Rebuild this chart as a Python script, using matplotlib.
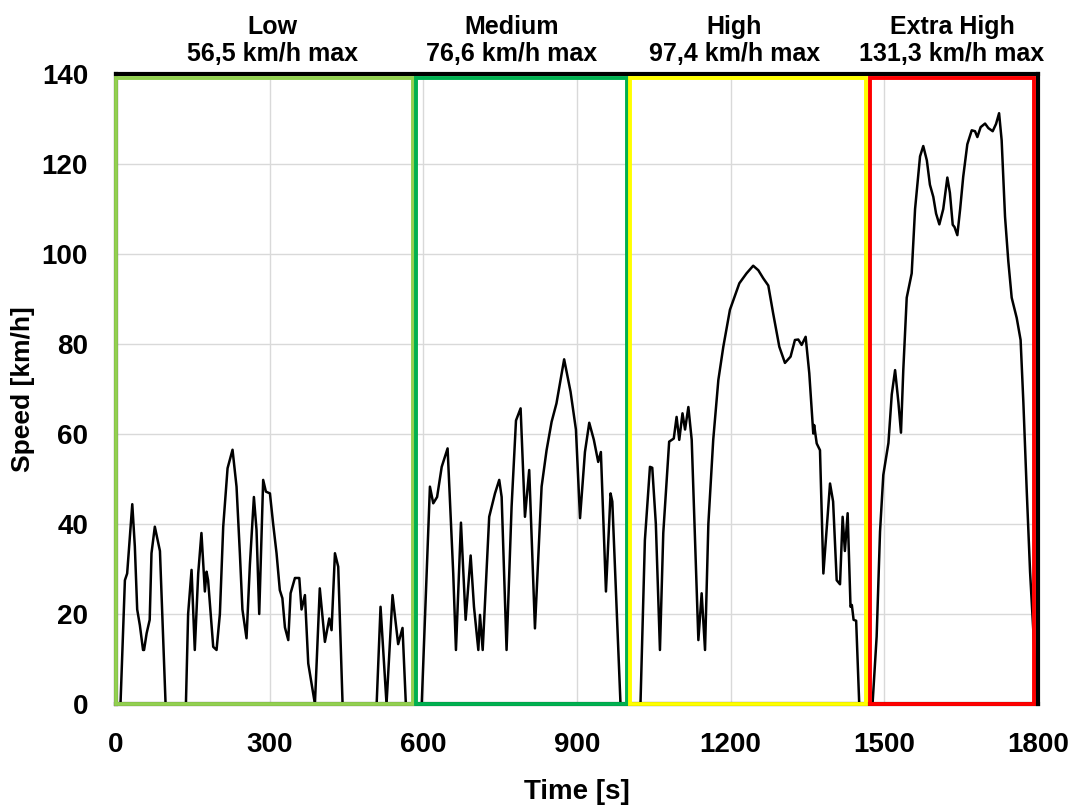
import matplotlib
matplotlib.use("Agg")
import matplotlib.pyplot as plt
from matplotlib.patches import Rectangle

# --- speed trace (time [s], speed [km/h]) ---
low_t = [0, 9, 17.6, 22, 32, 37, 41.6, 46.8, 53, 55, 60, 66, 69.5, 76, 86, 97,
         136.7, 141, 147.7, 154, 160.7, 167, 173.7, 177, 180, 190, 196.5, 203,
         209.5, 218, 227.7, 235.5, 242, 247, 255, 261.6, 269.4, 274.5, 279.8,
         287.5, 292.8, 300.7, 307, 313.6, 320, 325, 330, 336.5, 341, 349.5, 358,
         362.4, 369, 375.5, 388.5, 398, 408, 416.5, 421, 427.6, 434, 442.5,
         509, 516.6, 528.3, 540, 551, 559.5, 566]
low_v = [0, 0, 27.5, 29, 44.4, 35, 21, 17.5, 12, 12, 15.7, 18.7, 33.5, 39.4, 34, 0,
         0, 20, 29.8, 12, 29, 38, 25, 29.4, 27.5, 12.7, 12, 20,
         39.4, 52.4, 56.5, 48.3, 33.5, 21, 14.6, 31, 46, 38.7, 20,
         49.8, 47.2, 46.8, 40, 33.5, 25.3, 23.5, 17, 14.2, 24.6, 28, 28,
         21, 24.2, 9, 0, 25.7, 13.8, 19, 16.4, 33.5, 30.5, 0,
         0, 21.6, 0, 24.2, 13.3, 16.9, 0]

med_t = [597, 613, 619.5, 627, 636, 647.5, 658.5, 663.8, 673.6, 682.7, 692.5,
         699, 707.5, 710.7, 716, 728.7, 740, 748.3, 753, 762.6, 772.4, 781, 790,
         798.5, 806.8, 818, 831, 840.7, 850.5, 860, 875, 887.5, 898, 906, 915.6,
         924, 933, 941.5, 946.7, 956.6, 965.6, 969, 985]
med_v = [0, 48.3, 44.6, 46, 52.7, 56.8, 29, 12, 40.3, 18.7, 33,
         21.6, 12, 19.8, 12, 41.6, 46.8, 49.8, 46, 12, 43.8, 63, 65.7,
         41.6, 52, 16.8, 48.3, 56.4, 62.7, 66.8, 76.6, 69.4, 61, 41.3, 56,
         62.5, 58.7, 53.8, 56, 25, 46.8, 45, 0]

high_t = [1024, 1032.6, 1042.5, 1047, 1054, 1062, 1068.5, 1080, 1089, 1094.5,
          1099.7, 1106, 1111, 1117.5, 1124, 1130.5, 1137, 1143.4, 1150, 1156.5,
          1166, 1176, 1185.7, 1198.6, 1217, 1231, 1244, 1254, 1263.7, 1273.5,
          1283, 1295, 1306, 1317, 1325.5, 1332, 1338.6, 1346.4, 1353.5, 1361.3,
          1363, 1368, 1374.4, 1381, 1394, 1400, 1407, 1413.5, 1418.6, 1423,
          1428.4, 1434, 1436.6, 1440, 1445, 1451]
high_v = [0, 36.4, 52.7, 52.5, 40, 12, 38, 58.3, 59, 63.8,
          58.7, 64.6, 61, 66, 58.7, 36.4, 14.2, 24.6, 12, 40,
          58.7, 72, 79.4, 87.6, 93.5, 95.7, 97.4, 96.4, 94.6, 93,
          86.8, 79.4, 75.8, 77.2, 80.9, 81, 79.8, 81.6, 73.5, 60.1,
          62, 57.9, 56.4, 29, 49, 45, 27.5, 26.6, 41.6, 34,
          42.4, 21.6, 22, 18.7, 18.5, 0]

xhigh_t = [1477, 1485, 1491.6, 1498, 1508, 1514.5, 1521, 1527.5, 1532.5, 1537,
           1543.7, 1553.4, 1560, 1569.7, 1576, 1583, 1589, 1595.6, 1601, 1607.4,
           1615, 1623, 1628, 1633.5, 1637, 1642.5, 1648, 1654, 1662, 1670.6,
           1677, 1681.6, 1688, 1696.6, 1703, 1711.5, 1718, 1724, 1729, 1735.6,
           1742, 1748.6, 1758.4, 1766, 1771.4, 1778, 1784.5, 1791, 1798]
xhigh_v = [0, 15, 38.3, 50.9, 58, 68.8, 74.2, 67, 60.3, 74.2,
           90.3, 95.7, 110, 121.7, 124, 120.8, 115.4, 112.7, 109, 106.6,
           110, 117, 113.6, 106.5, 106, 104.2, 110, 117.2, 124.4, 127.5,
           127.3, 126, 128.2, 129, 128, 127.3, 128.9, 131.3, 125.3, 108.3,
           98.4, 90.3, 85.8, 80.9, 67, 47.3, 29.3, 15.9, 0]

# phase boxes: (start, end) in seconds, top speed
phase_names = ["Low", "Medium", "High", "Extra High"]
phase_max = ["56,5", "76,6", "97,4", "131,3"]
phase_start = [0, 585, 1004, 1472]
phase_end = [580, 998, 1464, 1792]
phase_label_x = [305, 773, 1207, 1632]
phase_colors = ["#92D050", "#00B050", "#FFFF00", "#FF0000"]
box_top = 139.2

x_ticks = [0, 300, 600, 900, 1200, 1500, 1800]
y_ticks = [0, 20, 40, 60, 80, 100, 120, 140]

plt.rcParams['font.family'] = ['Liberation Sans', 'DejaVu Sans']
plt.rcParams['font.weight'] = 'bold'

fig = plt.figure(figsize=(10.73, 8.05), dpi=100)
ax = fig.add_axes([0.108, 0.1255, 0.8594, 0.7825])

time = low_t + med_t + high_t + xhigh_t
speed = low_v + med_v + high_v + xhigh_v
ax.plot(time, speed, color='black', linewidth=1.8, zorder=3,
        solid_joinstyle='round')

ax.set_xlim(0, 1800)
ax.set_ylim(0, 140)
ax.set_xticks(x_ticks)
ax.set_yticks(y_ticks)
ax.tick_params(axis='both', length=0, labelsize=20)
ax.tick_params(axis='x', pad=20)
ax.tick_params(axis='y', pad=20)
for lbl in ax.get_xticklabels() + ax.get_yticklabels():
    lbl.set_fontweight('bold')
ax.grid(True, color='#d9d9d9', linewidth=1.0, zorder=0)
ax.set_axisbelow(True)

for side in ['top', 'right', 'left', 'bottom']:
    ax.spines[side].set_color('black')
    ax.spines[side].set_linewidth(3)

for start, end, col in zip(phase_start, phase_end, phase_colors):
    ax.add_patch(Rectangle((start, 0), end - start, box_top, fill=False,
                           edgecolor=col, linewidth=2.8, clip_on=False, zorder=4))

for xc, name, vmax in zip(phase_label_x, phase_names, phase_max):
    ax.text(xc, 141.7, f"{name}\n{vmax} km/h max", ha='center',
            va='bottom', fontsize=18, fontweight='bold', linespacing=1.2)

ax.set_xlabel("Time [s]", fontsize=20, fontweight='bold', labelpad=15)
ax.set_ylabel("Speed [km/h]", fontsize=19, fontweight='bold', labelpad=5)

fig.savefig("out.png", dpi=100)
